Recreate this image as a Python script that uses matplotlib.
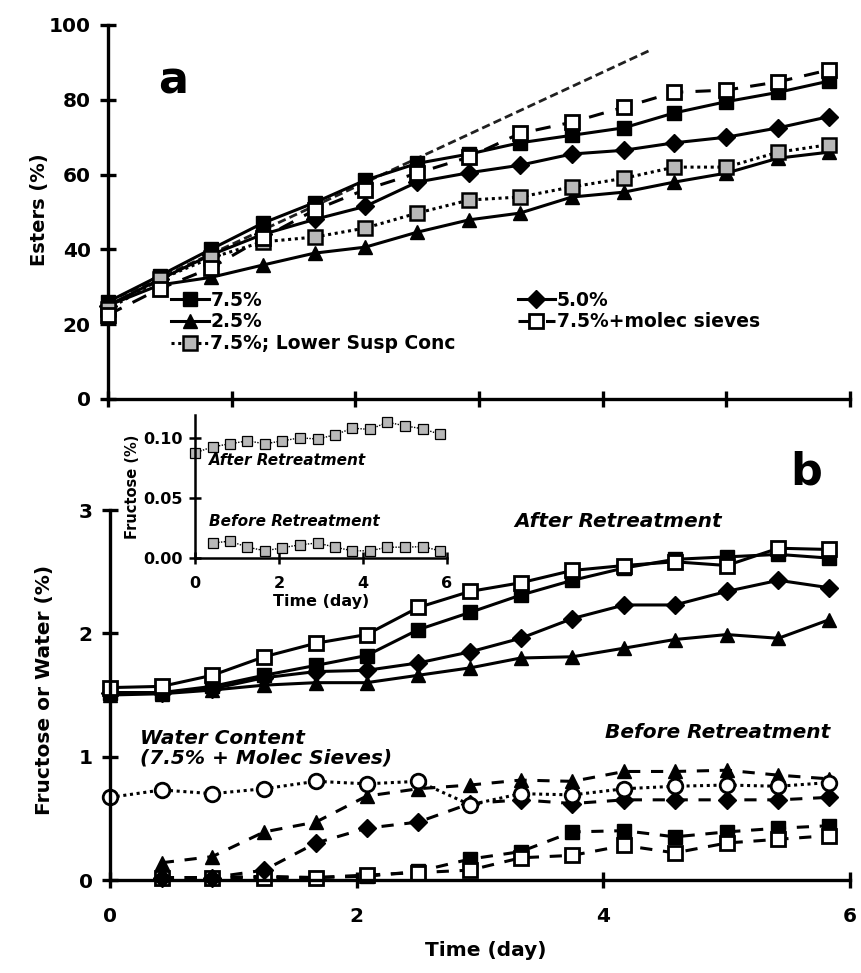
import numpy as np
import matplotlib
matplotlib.use('Agg')
import matplotlib.pyplot as plt

plt.rcParams.update({
    'font.family': ['DejaVu Sans'],
    'font.weight': 'bold',
    'font.size': 14,
    'axes.linewidth': 2.4,
    'axes.labelweight': 'bold',
})

# ===================== DATA =====================
# sampling times (day), one sample every 10 h
t_days = [0, 0.42, 0.83, 1.25, 1.67, 2.08, 2.5, 2.92, 3.33, 3.75, 4.17, 4.58, 5.0, 5.42, 5.83]
t_late = t_days[1:]

# panel a: esters (%)
est_75 = [26, 33, 40, 47, 52.5, 58.5, 63, 65.5, 68.5, 70.5, 72.5, 76.5, 79.5, 82, 85]
est_50 = [25, 32, 38.5, 44, 48, 51.5, 58, 60.5, 62.5, 65.5, 66.5, 68.5, 70, 72.5, 75.5]
est_25 = [25, 30.5, 32.5, 35.8, 39, 40.6, 44.6, 47.9, 49.7, 54, 55.3, 58, 60.4, 64.4, 66]
est_sieve = [22.5, 29.5, 35, 43, 50.5, 56, 60.4, 64.7, 71, 74, 78, 82, 82.6, 84.8, 88]
est_lowsusp = [24, 32, 37.7, 42, 43.3, 45.7, 49.7, 53.2, 54, 56.7, 59, 62, 62, 66, 68]
# initial-rate extrapolation (dashed straight line)
init_t = [0, 4.4]
init_y = [26, 93.5]

# panel b: fructose after retreatment (%)
fa_75 = [1.52, 1.52, 1.57, 1.66, 1.74, 1.82, 2.03, 2.17, 2.31, 2.43, 2.53, 2.60, 2.62, 2.64, 2.61]
fa_50 = [1.52, 1.52, 1.55, 1.64, 1.69, 1.70, 1.76, 1.85, 1.96, 2.12, 2.23, 2.23, 2.34, 2.43, 2.37]
fa_25 = [1.50, 1.51, 1.54, 1.58, 1.60, 1.60, 1.66, 1.72, 1.80, 1.81, 1.88, 1.95, 1.99, 1.96, 2.11]
fa_sieve = [1.56, 1.57, 1.66, 1.81, 1.92, 1.99, 2.21, 2.34, 2.41, 2.51, 2.55, 2.58, 2.55, 2.69, 2.68]

# panel b: fructose before retreatment (%), from day 0.42
fb_75 = [0.02, 0.02, 0.03, 0.02, 0.03, 0.07, 0.17, 0.23, 0.39, 0.40, 0.35, 0.39, 0.42, 0.44]
fb_50 = [0.02, 0.02, 0.08, 0.30, 0.42, 0.47, 0.62, 0.65, 0.62, 0.65, 0.65, 0.65, 0.65, 0.67]
fb_25 = [0.14, 0.19, 0.39, 0.47, 0.68, 0.74, 0.77, 0.81, 0.80, 0.88, 0.88, 0.89, 0.85, 0.82]
fb_sieve = [0.02, 0.02, 0.02, 0.02, 0.04, 0.06, 0.08, 0.18, 0.20, 0.28, 0.22, 0.30, 0.33, 0.36]

# water content, 7.5% + molec sieves (%)
water = [0.67, 0.73, 0.70, 0.74, 0.80, 0.78, 0.80, 0.61, 0.70, 0.69, 0.74, 0.76, 0.77, 0.76, 0.79]

# inset: fructose, lower suspension conc (%)
ins_after = [0.0875, 0.0925, 0.095, 0.0975, 0.095, 0.0975, 0.100, 0.099, 0.1025, 0.108, 0.107, 0.113, 0.110, 0.1075, 0.103]
ins_before = [0.0125, 0.014, 0.009, 0.006, 0.0085, 0.011, 0.0125, 0.009, 0.006, 0.006, 0.009, 0.009, 0.0095, 0.006]

W, H = 862, 973
fig = plt.figure(figsize=(W / 100, H / 100), dpi=100)

def px_axes(x0, y0, x1, y1):
    return fig.add_axes([x0 / W, 1 - y1 / H, (x1 - x0) / W, (y1 - y0) / H])

def style_axes(ax, lw=2.4, tl=11, ls=14.5, pad=7):
    for s in ['top', 'right']:
        ax.spines[s].set_visible(False)
    for s in ['left', 'bottom']:
        ax.spines[s].set_linewidth(lw)
    ax.tick_params(direction='inout', length=tl, width=lw, labelsize=ls, pad=pad)
    ax.set_facecolor('none')

GRAY = '#b8b8b8'
ms = 10.5
lw = 2.2
sieve_dash = (0, (5, 4))

# ===================== PANEL A =====================
ax = px_axes(108, 25, 850, 399)
style_axes(ax)
ax.plot(init_t, init_y, color='#202020', lw=2.0, ls=(0, (3, 1.5)), zorder=2)
ax.plot(t_days, est_75, '-s', color='black', mfc='black', mec='black', ms=ms, lw=lw, label='7.5%', clip_on=False, zorder=3)
ax.plot(t_days, est_25, '-^', color='black', mfc='black', mec='black', ms=ms, lw=lw, label='2.5%', clip_on=False, zorder=3)
ax.plot(t_days, est_lowsusp, ls=(0, (1, 1.2)), marker='s', color='black', mfc=GRAY, mec='black', mew=1.8,
        ms=ms, lw=lw, label='7.5%; Lower Susp Conc', clip_on=False, zorder=4)
ax.plot(t_days, est_50, '-D', color='black', mfc='black', mec='black', ms=ms - 1, lw=lw, label='5.0%', clip_on=False, zorder=3)
ax.plot(t_days, est_sieve, ls=sieve_dash, marker='s', color='black', mfc='white', mec='black', mew=2.0,
        ms=ms, lw=lw, label='7.5%+molec sieves', clip_on=False, zorder=5)
ax.set_xlim(0, 6)
ax.set_ylim(0, 100)
ax.set_xticks(range(7))
ax.set_xticklabels([])
ax.set_yticks(range(0, 101, 20))

h, l = ax.get_legend_handles_labels()
leg1 = ax.legend(h[:3], l[:3], loc='upper left', bbox_to_anchor=(0.085, 0.29), frameon=False,
                 fontsize=13.5, handlelength=2.0, handletextpad=0.1, labelspacing=0.15,
                 borderaxespad=0, borderpad=0)
ax.add_artist(leg1)
ax.legend(h[3:], l[3:], loc='upper left', bbox_to_anchor=(0.552, 0.29), frameon=False,
          fontsize=13.5, handlelength=2.0, handletextpad=0.1, labelspacing=0.15,
          borderaxespad=0, borderpad=0)

fig.text(40 / W, 1 - 210 / H, 'Esters (%)', rotation=90, ha='center', va='center', fontsize=14)
fig.text(158 / W, 1 - 81 / H, 'a', fontsize=32, ha='left', va='center')

# ===================== PANEL B =====================
bx = px_axes(110, 510, 850, 880)
style_axes(bx, pad=14)
kw = dict(color='black', ms=ms, lw=lw, clip_on=False)
bx.plot(t_days, fa_25, '-^', mfc='black', mec='black', **kw)
bx.plot(t_days, fa_50, '-D', mfc='black', mec='black', **{**kw, 'ms': ms - 1})
bx.plot(t_days, fa_75, '-s', mfc='black', mec='black', **kw)
bx.plot(t_days, fa_sieve, '-s', mfc='white', mec='black', mew=2.0, **kw)

bdash = (0, (4, 3.5))
bx.plot(t_late, fb_75, ls=bdash, marker='s', mfc='black', mec='black', **kw)
bx.plot(t_late, fb_sieve, ls=bdash, marker='s', mfc='white', mec='black', mew=2.0, **kw)
bx.plot(t_late, fb_50, ls=bdash, marker='D', mfc='black', mec='black', **{**kw, 'ms': ms - 1})
bx.plot(t_late, fb_25, ls=bdash, marker='^', mfc='black', mec='black', **kw)
bx.plot(t_days, water, ls=(0, (1, 1.2)), marker='o', mfc='white', mec='black', mew=2.0, **kw)

bx.set_xlim(0, 6)
bx.set_ylim(0, 3)
bx.set_xticks([0, 2, 4, 6])
bx.set_yticks([0, 1, 2, 3])
bx.tick_params(axis='y', pad=7)

bx.text(3.28, 2.91, 'After Retreatment', style='italic', fontsize=14.5, va='center')
bx.text(4.01, 1.20, 'Before Retreatment', style='italic', fontsize=14.5, va='center')
bx.text(0.24, 1.07, 'Water Content\n(7.5% + Molec Sieves)', style='italic', fontsize=14.5,
        va='center', linespacing=1.05)

fig.text(45 / W, 1 - 690 / H, 'Fructose or Water (%)', rotation=90, ha='center', va='center', fontsize=14.5)
fig.text(486 / W, 1 - 950 / H, 'Time (day)', ha='center', va='center', fontsize=14.5)
fig.text(790 / W, 1 - 472 / H, 'b', fontsize=32, ha='left', va='center')

# ===================== INSET =====================
ix = px_axes(195, 415, 447, 558)
style_axes(ix, lw=1.8, tl=8, ls=11.5, pad=5)
ix.plot(t_days, ins_after, ls=(0, (1, 1)), marker='s', color='black', lw=1.0, mfc=GRAY, mec='black',
        mew=0.9, ms=6.5, clip_on=False)
ix.plot(t_late, ins_before, ls=(0, (1, 1)), marker='s', color='black', lw=1.0, mfc=GRAY, mec='black',
        mew=0.9, ms=6.5, clip_on=False)
ix.set_xlim(0, 6)
ix.set_ylim(0, 0.119)
ix.set_xticks([0, 2, 4, 6])
ix.set_yticks([0, 0.05, 0.10])
ix.set_yticklabels(['0.00', '0.05', '0.10'])
ix.tick_params(axis='x', pad=9)
ix.set_xlabel('Time (day)', fontsize=11.5, labelpad=2)
ix.set_ylabel('Fructose (%)', fontsize=10.5, labelpad=2)
ix.text(0.33, 0.077, 'After Retreatment', style='italic', fontsize=11)
ix.text(0.33, 0.027, 'Before Retreatment', style='italic', fontsize=11)

fig.savefig('out.png', dpi=100)
